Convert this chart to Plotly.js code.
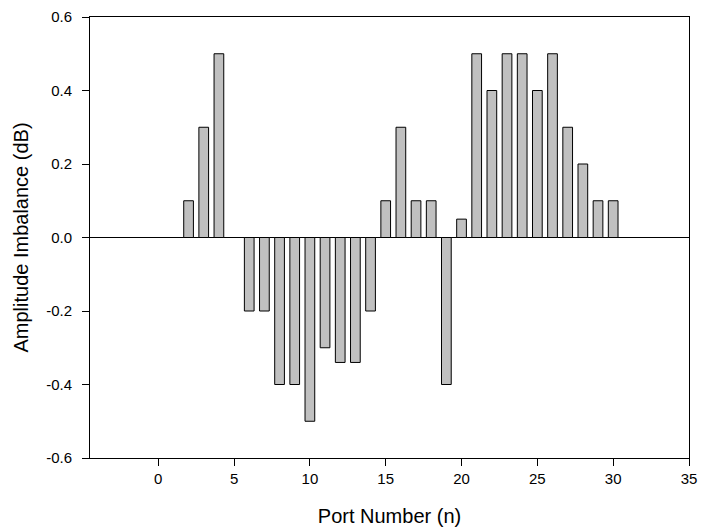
<!DOCTYPE html>
<html>
<head>
<meta charset="utf-8">
<script src="https://cdn.plot.ly/plotly-3.0.1.min.js"></script>
<style>
  html, body { margin: 0; padding: 0; background: #fff; }
  #chart { width: 709px; height: 529px; }
</style>
</head>
<body>
<div id="chart"></div>
<script>
const ports = [2, 3, 4, 6, 7, 8, 9, 10, 11, 12, 13, 14, 15, 16, 17, 18, 19, 20, 21, 22, 23, 24, 25, 26, 27, 28, 29, 30];
const imbalance = [0.1, 0.3, 0.5, -0.2, -0.2, -0.4, -0.4, -0.5, -0.3, -0.34, -0.34, -0.2, 0.1, 0.3, 0.1, 0.1, -0.4, 0.05, 0.5, 0.4, 0.5, 0.5, 0.4, 0.5, 0.3, 0.2, 0.1, 0.1];
const xTickVals = [0, 5, 10, 15, 20, 25, 30, 35];
const xTickText = ['0', '5', '10', '15', '20', '25', '30', '35'];
const yTickVals = [-0.6, -0.4, -0.2, 0.0, 0.2, 0.4, 0.6];
const yTickText = ['-0.6', '-0.4', '-0.2', '0.0', '0.2', '0.4', '0.6'];

const trace = {
  type: 'bar',
  x: ports,
  y: imbalance,
  width: 0.64,
  marker: { color: '#c0c0c0', line: { color: '#000000', width: 1 } },
  hoverinfo: 'x+y'
};

const fam = 'Liberation Sans, Arial, sans-serif';

const layout = {
  width: 709, height: 529,
  margin: { l: 90, r: 20, t: 17, b: 71 },
  paper_bgcolor: '#fff', plot_bgcolor: '#fff',
  showlegend: false,
  font: { family: fam, color: '#000' },
  xaxis: {
    range: [-4.5, 35],
    tickvals: xTickVals, ticktext: xTickText,
    ticks: 'outside', ticklen: 7, tickwidth: 1, tickcolor: '#000',
    showline: true, linecolor: '#000', linewidth: 1, mirror: true,
    showgrid: false, zeroline: false,
    tickfont: { family: fam, size: 15, color: '#000' },
    title: { text: 'Port Number (n)', font: { family: fam, size: 20, color: '#000' }, standoff: 22 }
  },
  yaxis: {
    range: [-0.6, 0.6],
    tickvals: yTickVals, ticktext: yTickText,
    ticks: 'outside', ticklen: 7, tickwidth: 1, tickcolor: '#000',
    ticklabelstandoff: 7,
    showline: true, linecolor: '#000', linewidth: 1, mirror: true,
    showgrid: false, zeroline: true, zerolinecolor: '#000', zerolinewidth: 1,
    tickfont: { family: fam, size: 15, color: '#000' },
    title: { text: 'Amplitude Imbalance (dB)', font: { family: fam, size: 20, color: '#000' }, standoff: 12 }
  }
};

Plotly.newPlot('chart', [trace], layout, { displayModeBar: false, staticPlot: true });
</script>
</body>
</html>
